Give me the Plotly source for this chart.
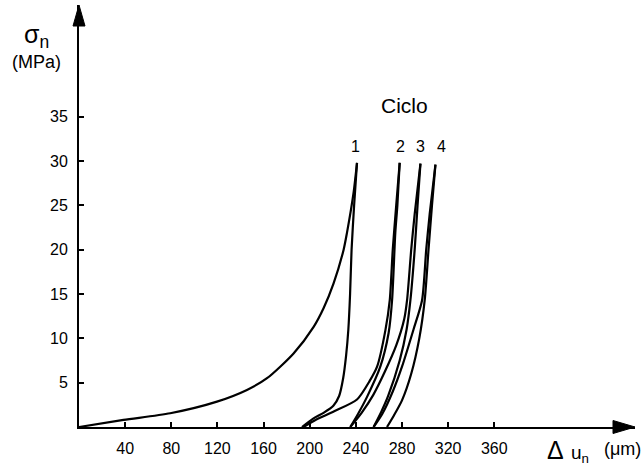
import plotly.graph_objects as go

# ---- data ----
x_ticks = [40, 80, 120, 160, 200, 240, 280, 320, 360]
y_ticks = [5, 10, 15, 20, 25, 30, 35]

c1_load_x = [0, 38.6, 79.1, 119.6, 145.6, 163, 186, 203.4, 212, 220.7, 229.4, 232.3, 238, 241]
c1_load_y = [0, 0.8, 1.55, 2.86, 4.18, 5.5, 8.3, 11.3, 13.4, 16.2, 20, 21.9, 26.4, 29.8]
c1_unl_x = [241, 238.5, 236.3, 235, 233.5, 231.5, 229, 225.5, 220.5, 212, 203, 193.3]
c1_unl_y = [29.8, 25, 20, 15, 11, 8, 5.5, 3.5, 2.4, 1.6, 0.95, 0]

c2_load_x = [194.7, 205, 220, 241, 252, 258.4, 265.6, 269.4, 272, 275, 278]
c2_load_y = [0, 0.8, 1.7, 3.1, 5.2, 6.8, 10.9, 14.3, 20, 25, 29.8]
c2_unl_x = [278, 276, 274.2, 271.4, 268.4, 261.2, 249.7, 242, 235.2]
c2_unl_y = [29.8, 25, 21.9, 14.3, 10.6, 6.8, 3.4, 1.5, 0]

c3_load_x = [235.2, 245, 255, 265, 275, 282, 284.4, 288, 291, 296]
c3_load_y = [0, 1.6, 3.6, 6.2, 9.2, 12.2, 14.3, 20, 24, 29.7]
c3_unl_x = [296, 293.5, 291, 287.3, 284, 278, 268, 262, 255.4]
c3_unl_y = [29.7, 25, 20, 14.3, 11, 7.5, 3.5, 1.7, 0]

c4_load_x = [255.4, 263, 272, 280, 290, 297.4, 301, 304, 309]
c4_load_y = [0, 1.5, 4, 6.8, 11, 14.3, 20, 24, 29.6]
c4_unl_x = [309, 306, 303, 299.7, 295, 288, 280, 273, 267]
c4_unl_y = [29.6, 25, 20, 14.3, 10, 6, 3, 1.3, 0]

cycle_labels = ["1", "2", "3", "4"]
cycle_label_x = [239.6, 278.5, 295.8, 314]

curves = [
    (c1_load_x, c1_load_y), (c1_unl_x, c1_unl_y),
    (c2_load_x, c2_load_y), (c2_unl_x, c2_unl_y),
    (c3_load_x, c3_load_y), (c3_unl_x, c3_unl_y),
    (c4_load_x, c4_load_y), (c4_unl_x, c4_unl_y),
]

FONT = "Liberation Sans, Arial, sans-serif"

fig = go.Figure()
for xs, ys in curves:
    fig.add_trace(go.Scatter(
        x=xs, y=ys, mode="lines",
        line=dict(color="black", width=2.2, shape="spline", smoothing=0.7),
        showlegend=False, hoverinfo="skip", cliponaxis=False))

annotations = [
    dict(x=282, y=36.3, xref="x", yref="y", text="Ciclo", showarrow=False,
         font=dict(size=21, family=FONT, color="black")),
]
for lab, lx in zip(cycle_labels, cycle_label_x):
    annotations.append(dict(x=lx, y=31.6, xref="x", yref="y", text=lab, showarrow=False,
                            font=dict(size=16, family=FONT, color="black")))

def px2paper_x(px):
    return (px - 79) / 556.0

def px2paper_y(py):
    return (427 - py) / 422.0

def paper_note(px, py, text, size):
    return dict(x=px2paper_x(px), y=px2paper_y(py), xref="paper", yref="paper",
                xanchor="center", yanchor="middle", text=text, showarrow=False,
                font=dict(size=size, family=FONT, color="black"))

annotations += [
    paper_note(36, 36, "σ<sub>n</sub>", 25),
    paper_note(36, 62, "(MPa)", 18),
    paper_note(555, 450, "Δ", 25),
    paper_note(580, 454, "u<sub>n</sub>", 19),
    paper_note(622, 449, "(μm)", 18),
]

shapes = [
    # x-axis arrowhead
    dict(type="path", xref="paper", yref="paper", xsizemode="pixel", ysizemode="pixel",
         xanchor=1, yanchor=0, path="M -22,6.5 L 0,0 L -22,-6.5 Z",
         fillcolor="black", line=dict(color="black", width=1)),
    # y-axis arrowhead
    dict(type="path", xref="paper", yref="paper", xsizemode="pixel", ysizemode="pixel",
         xanchor=0, yanchor=1, path="M -6,-21 L 6,-21 L 0,0 Z",
         fillcolor="black", line=dict(color="black", width=1)),
]

fig.update_layout(
    width=642, height=465,
    margin=dict(l=79, r=7, t=5, b=38, autoexpand=False),
    plot_bgcolor="white", paper_bgcolor="white",
    font=dict(family=FONT, color="black", size=16),
    annotations=annotations, shapes=shapes,
    xaxis=dict(range=[0, 482], showgrid=False, zeroline=False, automargin=False,
               showline=True, linecolor="black", linewidth=2,
               tickmode="array", tickvals=x_ticks, ticktext=[str(v) for v in x_ticks],
               ticks="inside", ticklen=5, tickwidth=1.5, tickcolor="black",
               ticklabelstandoff=6, tickfont=dict(size=16, family=FONT, color="black")),
    yaxis=dict(range=[0, 47.6], showgrid=False, zeroline=False, automargin=False,
               showline=True, linecolor="black", linewidth=2,
               tickmode="array", tickvals=y_ticks, ticktext=[str(v) for v in y_ticks],
               ticks="inside", ticklen=5, tickwidth=1.5, tickcolor="black",
               ticklabelstandoff=6, tickfont=dict(size=16, family=FONT, color="black")),
)

fig.write_html("out.html", config={"displayModeBar": False},
               post_script="document.body.style.margin='0';document.body.style.padding='0';")
